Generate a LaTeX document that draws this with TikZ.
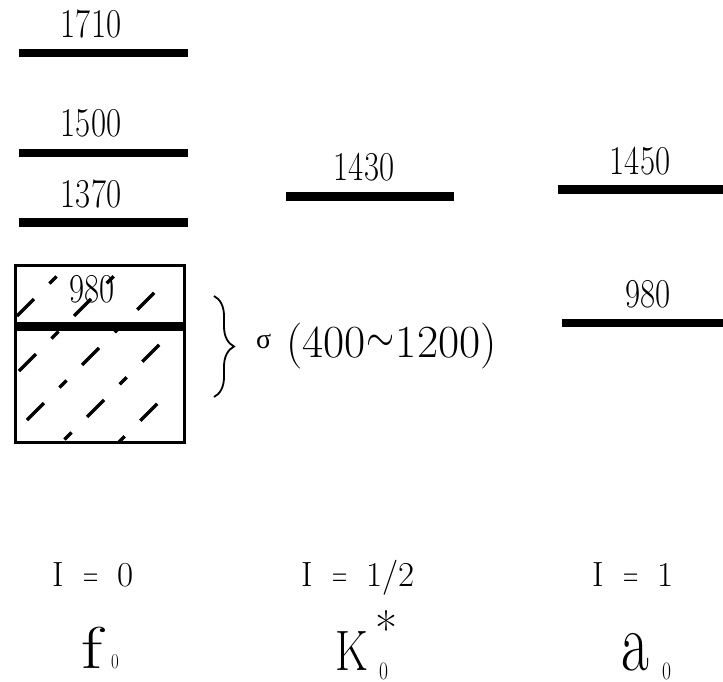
\documentclass[tikz,border=0pt]{standalone}
\usepackage{fontspec}
\setmainfont{Latin Modern Roman}
\newfontfamily\grk{Liberation Serif}
\usetikzlibrary{decorations.pathreplacing}
\newcommand{\cnd}[1]{\scalebox{0.8}[1]{#1}}
\newcommand{\fsz}[1]{\fontsize{#1}{#1}\selectfont}
\begin{document}
\begin{tikzpicture}[x=1pt,y=-1pt,
  level/.style={line width=8.5pt},
  num/.style={inner sep=0pt,font=\fsz{41}},
  lab/.style={inner sep=0pt,anchor=base west},
  hatch/.style={line width=3.2pt,dash pattern=on 24pt off 22pt on 10pt off 22pt},
  boxedge/.style={line width=3pt}]
\useasboundingbox (0,0) rectangle (723,681);

% f0 column levels
\draw[level] (19,53) -- (188,53);
\draw[level] (19,153) -- (188,153);
\draw[level] (19,222.5) -- (188,222.5);
\node[num] (t1710) at (91,23.5) {\cnd{1710}};
\node[num] (t1500) at (91,123.5) {\cnd{1500}};
\node[num] (t1370) at (91,194) {\cnd{1370}};

% hatched box
\begin{scope}
  \clip (15.5,265.5) rectangle (184.5,442.5);
  \foreach \s/\xl in {333/25,390/27,447/35,504/40,561/38,618/40}{
    \draw[hatch] ({\xl-8.5-165},{\s-\xl+8.5+165}) -- ++(300,-300);
  }
\end{scope}
\draw[boxedge] (15.5,265.5) rectangle (184.5,442.5);
\draw[line width=9pt] (14,326.5) -- (186,326.5);
\node[num] (t980f) at (92,289) {\cnd{980}};

% brace and sigma
\coordinate (bt) at (214,296);
\coordinate (bb) at (214,397);
\draw[decorate,decoration={brace,amplitude=20pt},line width=1.8pt] (bt) -- (bb);
\node[lab] (sig) at (256,357) {\raisebox{9pt}{\fsz{28}\grk σ}\hspace{15pt}{\fsz{46}(400\hspace{1pt}\raisebox{6pt}{\fsz{25}\scalebox{1.45}[1.8]{$\sim$}}\hspace{1pt}1200)}};

% K0* column
\draw[level] (286,196.5) -- (454,196.5);
\node[num] (t1430) at (364,167.5) {\cnd{1430}};

% a0 column
\draw[level] (558,189.5) -- (723,189.5);
\node[num] (t1450) at (640,161) {\cnd{1450}};
\draw[level] (562,323) -- (723,323);
\node[num] (t980a) at (648,294) {\cnd{980}};

% isospin labels
\node[lab,font=\fsz{35}] (i0) at (52,586) {I\hspace{20pt}\scalebox{0.6}[1]{=}\hspace{19pt}0};
\node[lab,font=\fsz{35}] (i12) at (301,586) {I\hspace{20pt}\scalebox{0.6}[1]{=}\hspace{19pt}1/2};
\node[lab,font=\fsz{35}] (i1) at (592,586) {I\hspace{20pt}\scalebox{0.6}[1]{=}\hspace{19pt}1};

% particle names
\node[lab,font=\fsz{59}] (fm) at (81,668) {\scalebox{1.3}[1]{f}};
\node[lab,font=\fsz{21}] (fs) at (111,668) {\scalebox{0.8}[1]{0}};
\node[lab,font=\fsz{57}] (km) at (335,670) {\scalebox{0.8}[1]{K}};
\node[inner sep=0pt,anchor=north,font=\fsz{48}] (kst) at (386.5,610) {*};
\node[lab,font=\fsz{25}] (ks) at (379,679.5) {\scalebox{0.78}[1]{0}};
\node[lab,font=\fsz{84}] (am) at (621,670) {\scalebox{0.72}[1]{a}};
\node[lab,font=\fsz{25}] (as) at (662,679.5) {\scalebox{0.78}[1]{0}};
\end{tikzpicture}
\end{document}
